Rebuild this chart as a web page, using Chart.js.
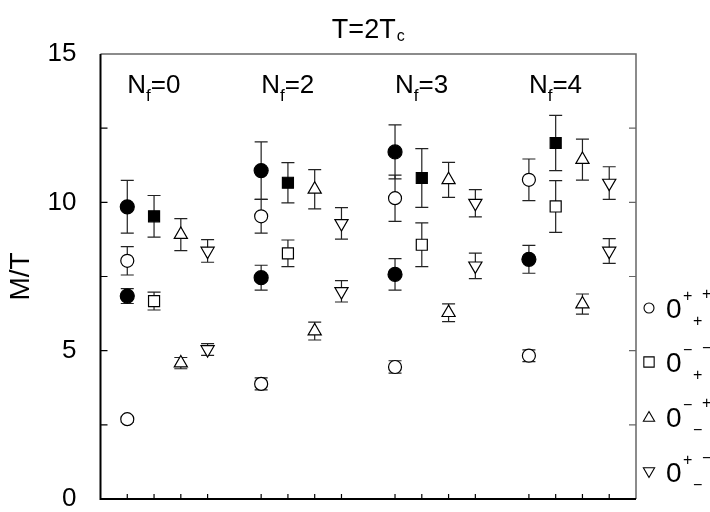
<!DOCTYPE html>
<html>
<head>
<meta charset="utf-8">
<script src="https://cdn.jsdelivr.net/npm/chart.js@4/dist/chart.umd.min.js"></script>
<style>
  html, body { margin: 0; padding: 0; background: #fff; }
  #wrap { width: 710px; height: 512px; position: relative; }
</style>
</head>
<body>
<div id="wrap"><canvas id="c" width="710" height="512"></canvas></div>
<script>
// ---- data ----
const flavourLabels = ['0', '2', '3', '4'];          // N_f values
const groupStartX   = [1, 6, 11, 16];                // first slot of each N_f group
const xTickValues   = [1,2,3,4, 6,7,8,9, 11,12,13,14, 16,17,18,19];
const yLabelTicks   = [0, 5, 10, 15];
const yMinorTicks   = [2.5, 5, 7.5, 10, 12.5];

// 0^{++}_+  (open circles)
const openCircleX   = [1, 1, 6, 6, 11, 11, 16, 16];
const openCircleY   = [8.03, 2.69, 9.53, 3.88, 10.14, 4.45, 10.76, 4.83];
const openCircleErr = [0.48, 0.10, 0.57, 0.20, 0.78, 0.21, 0.70, 0.20];

// filled circles
const fullCircleX   = [1, 1, 6, 6, 11, 11, 16];
const fullCircleY   = [9.85, 6.84, 11.07, 7.46, 11.70, 7.57, 8.08];
const fullCircleErr = [0.89, 0.25, 0.97, 0.42, 0.91, 0.53, 0.47];

// 0^{--}_+  (open squares)
const openSquareX   = [2, 7, 12, 17];
const openSquareY   = [6.67, 8.28, 8.57, 9.86];
const openSquareErr = [0.30, 0.45, 0.74, 0.87];

// filled squares
const fullSquareX   = [2, 7, 12, 17];
const fullSquareY   = [9.53, 10.66, 10.82, 12.00];
const fullSquareErr = [0.70, 0.68, 0.99, 0.93];

// 0^{-+}_-  (up triangles)
const triUpX   = [3, 3, 8, 8, 13, 13, 18, 18];
const triUpY   = [8.91, 4.58, 10.44, 5.66, 10.76, 6.28, 11.44, 6.57];
const triUpErr = [0.54, 0.19, 0.66, 0.30, 0.59, 0.30, 0.69, 0.34];

// 0^{+-}_-  (down triangles)
const triDownX   = [4, 4, 9, 9, 14, 14, 19, 19];
const triDownY   = [8.36, 5.04, 9.29, 7.00, 9.97, 7.86, 10.65, 8.36];
const triDownErr = [0.38, 0.20, 0.53, 0.36, 0.46, 0.43, 0.55, 0.42];

// legend: [P sign, subscript sign, C sign]
const legendSigns = [['+', '+', '+'], ['\u2212', '+', '\u2212'], ['\u2212', '\u2212', '+'], ['+', '\u2212', '\u2212']];
const legendStyles = ['circle', 'rect', 'triangle', 'triangleDown'];

const FONT = "'Liberation Sans', Arial, Helvetica, sans-serif";

function pts(xs, ys) { return xs.map((x, i) => ({ x: x, y: ys[i] })); }

function makeSet(label, xs, ys, errs, style, filled, radius) {
  return {
    label: label,
    data: pts(xs, ys),
    errors: errs,
    pointStyle: style === 'triangleDown' ? 'triangle' : style,
    rotation: style === 'triangleDown' ? 180 : 0,
    pointRadius: radius,
    pointHoverRadius: radius,
    backgroundColor: filled ? '#000' : '#fff',
    borderColor: '#000',
    borderWidth: 1.2,
    showLine: false
  };
}

const datasets = [
  makeSet('0++ +', openCircleX, openCircleY, openCircleErr, 'circle', false, 6.5),
  makeSet('filled circle', fullCircleX, fullCircleY, fullCircleErr, 'circle', true, 7),
  makeSet('0-- +', openSquareX, openSquareY, openSquareErr, 'rect', false, 7.8),
  makeSet('filled square', fullSquareX, fullSquareY, fullSquareErr, 'rect', true, 7.8),
  makeSet('0-+ -', triUpX, triUpY, triUpErr, 'triangle', false, 7.6),
  makeSet('0+- -', triDownX, triDownY, triDownErr, 'triangleDown', false, 7.6)
];

// error bars drawn through the scales
const errorBarPlugin = {
  id: 'errorBars',
  beforeDatasetsDraw(chart) {
    const ctx = chart.ctx, xs = chart.scales.x, ys = chart.scales.y;
    ctx.save();
    ctx.strokeStyle = '#222';
    ctx.lineWidth = 1.2;
    chart.data.datasets.forEach(ds => {
      if (!ds.errors) return;
      ds.data.forEach((p, i) => {
        const e = ds.errors[i];
        const px = xs.getPixelForValue(p.x);
        const top = ys.getPixelForValue(p.y + e);
        const bot = ys.getPixelForValue(p.y - e);
        const cw = 6.5;
        ctx.beginPath();
        ctx.moveTo(px, top); ctx.lineTo(px, bot);
        ctx.moveTo(px - cw, top); ctx.lineTo(px + cw, top);
        ctx.moveTo(px - cw, bot); ctx.lineTo(px + cw, bot);
        ctx.stroke();
      });
    });
    ctx.restore();
  }
};

// frame and inward ticks
const framePlugin = {
  id: 'frame',
  afterDatasetsDraw(chart) {
    const ctx = chart.ctx, a = chart.chartArea, xs = chart.scales.x, ys = chart.scales.y;
    ctx.save();
    // top & right (gray)
    ctx.strokeStyle = '#666';
    ctx.lineWidth = 1.5;
    ctx.beginPath();
    ctx.moveTo(a.left, a.top); ctx.lineTo(a.right, a.top); ctx.lineTo(a.right, a.bottom);
    ctx.stroke();
    // right ticks
    ctx.lineWidth = 1.2;
    ctx.beginPath();
    yMinorTicks.forEach(v => { const py = ys.getPixelForValue(v); ctx.moveTo(a.right, py); ctx.lineTo(a.right - 7, py); });
    ctx.stroke();
    // left & bottom (black)
    ctx.strokeStyle = '#000';
    ctx.lineWidth = 2;
    ctx.beginPath();
    ctx.moveTo(a.left, a.top); ctx.lineTo(a.left, a.bottom); ctx.lineTo(a.right, a.bottom);
    ctx.stroke();
    ctx.lineWidth = 1.2;
    ctx.beginPath();
    yMinorTicks.forEach(v => { const py = ys.getPixelForValue(v); ctx.moveTo(a.left, py); ctx.lineTo(a.left + 7, py); });
    xTickValues.forEach(v => { const px = xs.getPixelForValue(v); ctx.moveTo(px, a.bottom); ctx.lineTo(px, a.bottom - 5); });
    ctx.stroke();
    ctx.restore();
  }
};

// texts with sub/superscripts: title, N_f labels, legend
const textPlugin = {
  id: 'texts',
  afterDraw(chart) {
    const ctx = chart.ctx, a = chart.chartArea, xs = chart.scales.x, ys = chart.scales.y;
    ctx.save();
    ctx.fillStyle = '#000';
    ctx.textBaseline = 'alphabetic';
    ctx.textAlign = 'left';

    // title T=2T_c
    ctx.font = '27px ' + FONT;
    const tMain = 'T=2T';
    const tw = ctx.measureText(tMain).width;
    ctx.font = '16px ' + FONT;
    const cw = ctx.measureText('c').width;
    const tx = (a.left + a.right) / 2 - (tw + cw + 1) / 2;
    ctx.font = '27px ' + FONT;
    ctx.fillText(tMain, tx, 38);
    ctx.font = '16px ' + FONT;
    ctx.fillText('c', tx + tw + 1, 41);

    // N_f labels
    flavourLabels.forEach((n, i) => {
      const x0 = xs.getPixelForValue(groupStartX[i]);
      ctx.font = '26px ' + FONT;
      ctx.fillText('N', x0, 93);
      let x = x0 + ctx.measureText('N').width;
      ctx.font = '17px ' + FONT;
      ctx.fillText('f', x, 101);
      x += ctx.measureText('f').width;
      ctx.font = '26px ' + FONT;
      ctx.fillText('=' + n, x, 93);
    });

    // legend
    const rowY = [308, 362, 417, 472];
    legendStyles.forEach((st, i) => {
      const cy = rowY[i];
      const mx = 649;
      ctx.fillStyle = '#fff';
      ctx.strokeStyle = '#000';
      ctx.lineWidth = 1.1;
      Chart.helpers.drawPoint(ctx, {
        pointStyle: st === 'triangleDown' ? 'triangle' : st,
        rotation: st === 'triangleDown' ? 180 : 0,
        radius: st === 'circle' ? 5 : (st === 'rect' ? 7.3 : 6.5),
        borderWidth: 1.1
      }, mx, st === 'triangle' ? cy + 1 : (st === 'triangleDown' ? cy - 1 : cy));
      ctx.fillStyle = '#000';
      ctx.font = '28px ' + FONT;
      ctx.fillText('0', 666, cy + 10);
      ctx.font = '16px ' + FONT;
      const s = legendSigns[i];
      ctx.fillText(s[0], 683, cy - 7);
      ctx.fillText(s[1], 693, cy + 18);
      ctx.fillText(s[2], 702, cy - 9);
    });
    ctx.restore();
  }
};

new Chart(document.getElementById('c'), {
  type: 'scatter',
  data: { datasets: datasets },
  options: {
    responsive: false,
    animation: false,
    devicePixelRatio: 1,
    layout: { padding: { top: 54, right: 74, bottom: 13, left: 0 } },
    plugins: { legend: { display: false }, tooltip: { enabled: false } },
    scales: {
      x: {
        type: 'linear', min: 0, max: 20,
        grid: { display: false }, border: { display: false },
        ticks: { display: false },
        afterFit(s) { s.height = 0; s.paddingLeft = 0; s.paddingRight = 0; }
      },
      y: {
        type: 'linear', min: 0, max: 15,
        grid: { display: false }, border: { display: false },
        afterBuildTicks(s) { s.ticks = yLabelTicks.map(v => ({ value: v })); },
        ticks: { color: '#000', padding: 16, font: { family: FONT, size: 26 } },
        title: { display: true, text: 'M/T', color: '#000', font: { family: FONT, size: 28 }, padding: { top: 4, bottom: 0 } },
        afterFit(s) { s.width = 100.5; s.paddingTop = 0; s.paddingBottom = 0; }
      }
    }
  },
  plugins: [errorBarPlugin, framePlugin, textPlugin]
});
</script>
</body>
</html>
